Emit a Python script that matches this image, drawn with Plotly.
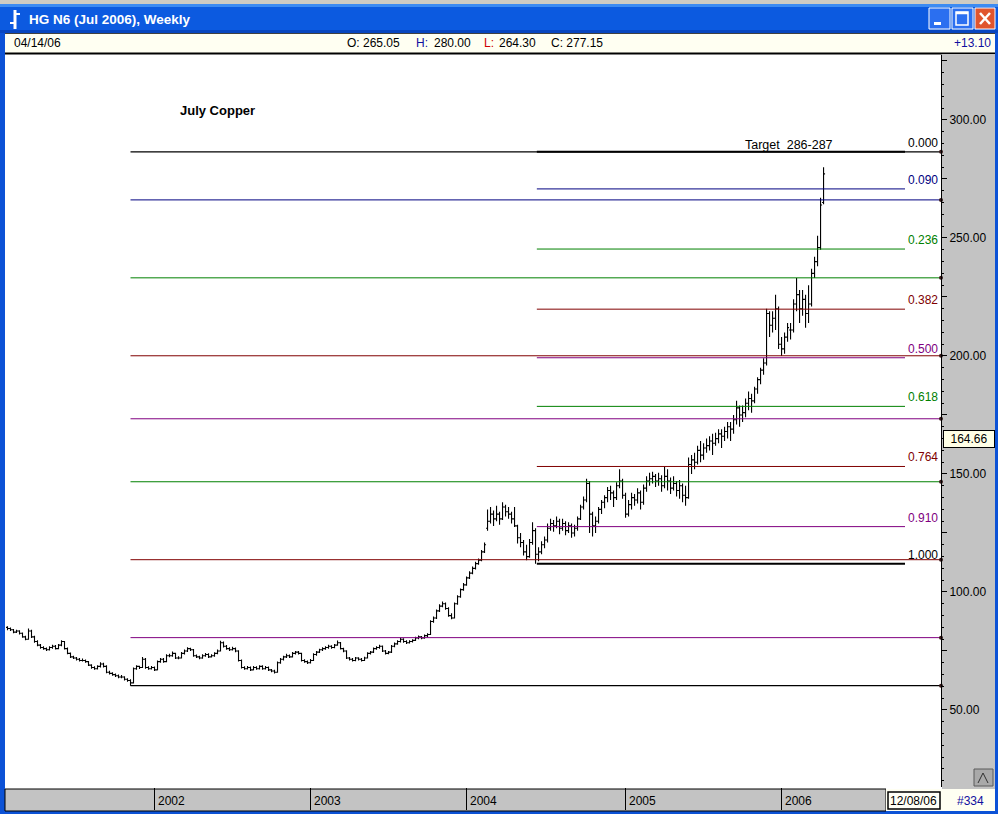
import plotly.graph_objects as go
import pandas as pd

# ---------------- data (weekly OHLC, July copper) ----------------
last_bar_date = "2006-04-14"

opens = [
    85, 84.5, 84, 83, 83.5, 82.5, 81, 80, 83.5, 81,
    79, 77.5, 76.5, 76, 75.5, 76.5, 77, 76, 77.5, 79,
    76, 74, 72.5, 72, 71.5, 71, 71, 70.5, 69, 68,
    67.5, 68.5, 69.5, 68.5, 66, 65.5, 65, 64.5, 64, 64,
    63, 62.5, 61.5, 67.5, 68.5, 68, 71.5, 68, 67.5, 68,
    67, 70.5, 71.5, 70.5, 73, 73, 74, 72, 72, 74,
    75, 76, 75.5, 73, 72.5, 72, 73, 73.5, 72.5, 73,
    74, 75, 78.5, 77, 76, 75.5, 76, 75, 71, 68,
    67.5, 68, 67, 68, 67.5, 68.5, 67.5, 68, 67, 66.5,
    66, 70, 71.5, 72.5, 73, 72.5, 74, 74.5, 74, 71,
    70.5, 70, 71, 73.5, 74.5, 75.5, 76, 76.5, 77, 76.5,
    77.5, 78.5, 76, 75, 72, 71.5, 71, 72, 71.5, 71,
    72, 74, 74.5, 76, 76.5, 77, 75, 74, 74.5, 77,
    78, 79, 80, 79, 78.5, 79, 79.5, 80.5, 81, 80.5,
    81.5, 82, 87.5, 89, 92, 94, 95, 93, 90, 89,
    95, 98, 101, 103, 106, 108, 110, 112, 113.5, 117,
    127, 130, 133, 131, 133, 131, 136, 134, 133, 131,
    128, 123, 121, 117, 115, 121, 126, 116, 117, 120,
    122, 127, 129, 128, 130, 127, 129, 126, 128, 125,
    127, 131, 136, 139, 146, 133, 128, 130, 135, 138,
    140, 143, 142, 140, 145, 147, 141, 133, 137, 140,
    139, 142, 138, 144, 147, 148, 149, 147, 148, 145,
    149, 147, 144, 146, 143, 145, 141, 140, 154, 156,
    155, 160, 158, 161, 162, 164, 163, 165, 167, 166,
    168, 170, 169, 173, 178, 175, 176, 180, 182, 181,
    186, 190, 194, 197, 218, 213, 216, 220, 205, 203,
    208, 211, 211, 222, 226, 220, 224, 218, 222, 235,
    240, 246, 265.05,
]
highs = [
    85.5, 85, 84.3, 84, 83.8, 82.8, 81.5, 84.5, 84, 81.5,
    79.5, 78, 77, 76.5, 77, 77.6, 77.5, 78, 79.6, 79.2,
    76.5, 74.4, 73, 72.5, 72, 71.8, 71.4, 70.8, 69.4, 68.5,
    69, 70.2, 70, 69, 66.6, 66, 65.5, 65, 64.8, 64.3,
    63.5, 63, 68, 69, 68.8, 72.5, 72, 68.5, 68.6, 68.4,
    71, 72, 72, 73.6, 73.8, 74.8, 74.3, 72.8, 74.6, 75.6,
    76.6, 76.4, 75.8, 73.5, 73, 73.6, 74.2, 74, 73.6, 74.5,
    75.6, 79.3, 79, 77.5, 76.6, 76.8, 76.5, 75.3, 71.4, 68.5,
    68.6, 68.4, 68.6, 68.5, 69, 69, 68.6, 68.4, 67.4, 67,
    70.5, 72, 73, 73.8, 73.5, 74.6, 75, 75, 74.3, 71.5,
    71, 71.6, 74, 75, 76, 76.6, 77, 77.6, 77.4, 78,
    79.4, 78.8, 76.4, 75.3, 72.5, 72, 72.5, 72.4, 72, 72.6,
    74.5, 75, 76.5, 77, 77.6, 77.3, 75.4, 75, 77.5, 78.6,
    79.6, 80.6, 80.4, 79.5, 79.6, 80, 81, 81.6, 81.4, 82,
    82.5, 88, 89.6, 92.6, 94.8, 96, 95.5, 93.5, 91, 95.6,
    98.6, 101.5, 103.8, 106.6, 108.8, 110.8, 112.8, 114.2, 117.8, 121,
    135, 136, 134.5, 136.5, 134, 138, 137, 136, 134, 136,
    128.5, 125, 122, 120, 122.5, 129.5, 127, 119, 121.5, 123.5,
    129, 131, 130.5, 132, 131, 131, 130, 129.5, 129, 128.5,
    132, 137, 140.5, 148, 147, 134, 132, 136, 139, 141,
    144.5, 145, 143, 146.5, 152, 148, 142, 139, 142, 141.5,
    144, 143, 145.5, 149, 150.5, 151, 150, 150.5, 149.5, 153,
    152, 148.5, 149, 147, 147.5, 146, 145, 157, 158, 159,
    162, 164, 163, 165, 166, 167, 167.5, 169, 169, 170,
    172, 172, 175, 181, 179, 179, 182, 185, 184, 187,
    191, 195, 199, 220, 219, 219, 226, 221, 208, 210,
    214, 214, 224, 233, 228, 228, 226, 230, 237, 242,
    251, 267, 280,
]
lows = [
    83.8, 83.5, 82.5, 82.6, 82, 80.6, 79.6, 79.8, 80.5, 78.5,
    77, 76, 75.5, 75, 75.2, 76, 75.6, 75.7, 77, 75.6,
    73.6, 72, 71.6, 71, 70.5, 70.5, 70, 68.6, 67.5, 67,
    67.2, 68, 68, 65.6, 65, 64.5, 64, 63.5, 63.5, 62.5,
    62, 60.3, 61.2, 67, 67.4, 67.8, 67.5, 67, 67.2, 66.5,
    66.8, 70, 70, 70.2, 72.4, 72.6, 71.6, 71.5, 71.8, 73.5,
    74.6, 75, 72.6, 72, 71.5, 71.7, 72.6, 72, 72.2, 72.6,
    73.6, 74.8, 76.5, 75.5, 75, 75.2, 74.5, 70.5, 67.6, 67,
    67.2, 66.5, 66.8, 67, 67.2, 67, 67.2, 66.5, 66, 65.5,
    65.8, 69.6, 71, 72, 72, 72.2, 73.5, 73.5, 70.6, 70,
    69.5, 69.7, 70.8, 73, 74.2, 75, 75.5, 76, 76, 76.2,
    77.2, 75.6, 74.5, 71.6, 71, 70.5, 70.7, 71, 70.5, 70.8,
    71.8, 73.5, 74.2, 75.5, 76, 74.6, 73.5, 73.6, 74.2, 76.6,
    77.6, 78.6, 78.5, 78, 78.2, 78.6, 79.2, 80, 80, 80.2,
    80.8, 81.8, 87, 88.6, 91.5, 93.5, 92.5, 89.5, 88.4, 88.8,
    94.6, 97.6, 100.5, 102.6, 105.5, 107.5, 109.5, 111.5, 113, 116.5,
    126, 129, 128, 130, 128.5, 130.5, 132, 131, 129, 127.5,
    120.5, 119, 115.5, 113.5, 114.5, 120, 112, 113, 116, 118.5,
    121, 126, 125.5, 127, 124.5, 126, 124, 125, 123, 123.5,
    126, 130.5, 135, 138, 125, 123.5, 125, 129, 133, 135.5,
    138, 139, 136, 139, 144, 139.5, 131.5, 132, 135, 136.5,
    137.5, 135, 137, 142.5, 145, 146, 144.5, 145, 142.5, 144,
    143, 141.5, 143, 140.5, 139.5, 138, 136.5, 139.5, 150, 152,
    154, 155, 156, 159, 160, 158, 162, 163, 161, 164,
    165, 164, 167, 171, 170, 172, 174, 177, 176, 180,
    184, 188, 192, 196, 208, 210, 211, 203, 200, 201,
    206, 207, 210, 219, 214, 217, 212, 214, 221, 233,
    238, 245, 264.3,
]
closes = [
    84.5, 84, 83, 83.5, 82.5, 81, 80, 83.5, 81, 79,
    77.5, 76.5, 76, 75.5, 76.5, 77, 76, 77.5, 79, 76,
    74, 72.5, 72, 71.5, 71, 71, 70.5, 69, 68, 67.5,
    68.5, 69.5, 68.5, 66, 65.5, 65, 64.5, 64, 64, 63,
    62.5, 61.5, 67.5, 68.5, 68, 71.5, 68, 67.5, 68, 67,
    70.5, 71.5, 70.5, 73, 73, 74, 72, 72, 74, 75,
    76, 75.5, 73, 72.5, 72, 73, 73.5, 72.5, 73, 74,
    75, 78.5, 77, 76, 75.5, 76, 75, 71, 68, 67.5,
    68, 67, 68, 67.5, 68.5, 67.5, 68, 67, 66.5, 66,
    70, 71.5, 72.5, 73, 72.5, 74, 74.5, 74, 71, 70.5,
    70, 71, 73.5, 74.5, 75.5, 76, 76.5, 77, 76.5, 77.5,
    78.5, 76, 75, 72, 71.5, 71, 72, 71.5, 71, 72,
    74, 74.5, 76, 76.5, 77, 75, 74, 74.5, 77, 78,
    79, 80, 79, 78.5, 79, 79.5, 80.5, 81, 80.5, 81.5,
    82, 87.5, 89, 92, 94, 95, 93, 90, 89, 95,
    98, 101, 103, 106, 108, 110, 112, 113.5, 117, 120,
    130, 133, 131, 133, 131, 136, 134, 133, 131, 128,
    123, 121, 117, 115, 121, 126, 116, 117, 120, 122,
    127, 129, 128, 130, 127, 129, 126, 128, 125, 127,
    131, 136, 139, 146, 133, 128, 130, 135, 138, 140,
    143, 142, 140, 145, 147, 141, 133, 137, 140, 139,
    142, 138, 144, 147, 148, 149, 147, 148, 145, 149,
    147, 144, 146, 143, 145, 141, 140, 154, 156, 155,
    160, 158, 161, 162, 164, 163, 165, 167, 166, 168,
    170, 169, 173, 178, 175, 176, 180, 182, 181, 186,
    190, 194, 197, 218, 213, 216, 220, 205, 203, 208,
    212, 211, 222, 226, 220, 224, 218, 222, 235, 240,
    246, 264, 277.15,
]

# Fibonacci retracement sets
fib_ratios = [0.0, 0.09, 0.236, 0.382, 0.5, 0.618, 0.764, 0.91, 1.0]
fib_labels = ["0.000", "0.090", "0.236", "0.382", "0.500", "0.618", "0.764", "0.910", "1.000"]
fib_colors = ["#000000", "#000080", "#008000", "#800000", "#800080",
              "#008000", "#800000", "#800080", "#000000"]
long_fib_high, long_fib_low = 286.5, 60.3
long_fib_span = ["2001-11-09", "2007-01-13"]
short_fib_high, short_fib_low = 286.5, 112.0
short_fib_span = ["2004-06-14", "2006-10-21"]

# axis labels
year_ticks = ["2002-01-04", "2003-01-03", "2004-01-02", "2005-01-07", "2006-01-06"]
year_labels = ["2002", "2003", "2004", "2005", "2006"]
price_ticks = [50, 75, 100, 125, 150, 175, 200, 225, 250, 275, 300, 325]
price_labels = ["50.00", "", "100.00", "", "150.00", "", "200.00", "", "250.00", "", "300.00", ""]
x_range = ["2001-01-22 12:00", "2007-01-13"]
y_range = [17.37, 327.54]
marker_price = 164.66

dates = pd.date_range(end=last_bar_date, periods=len(closes), freq="7D")

# ---------------- figure geometry helpers (window chrome) ----------------
W, H = 998, 814
ML, MR, MT, MB = 6, 57, 55, 27
PWID, PHGT = W - ML - MR, H - MT - MB


def fx(px):
    return (px - ML) / PWID


def fy(py):
    return (H - MB - py) / PHGT


FONT = "Liberation Sans, Arial, sans-serif"
shapes = []
annotations = []


def rect(x0, y0, x1, y1, fill, line=None, lw=0, layer="below"):
    shapes.append(dict(type="rect", xref="paper", yref="paper",
                       x0=fx(x0), x1=fx(x1), y0=fy(y1), y1=fy(y0),
                       fillcolor=fill, layer=layer,
                       line=dict(color=line or fill, width=lw)))


def seg(x0, y0, x1, y1, color, lw=1, layer="above"):
    shapes.append(dict(type="line", xref="paper", yref="paper",
                       x0=fx(x0), x1=fx(x1), y0=fy(y0), y1=fy(y1), layer=layer,
                       line=dict(color=color, width=lw)))


def text(px, py, s, size=12, color="black", anchor="left", bold=False):
    annotations.append(dict(xref="paper", yref="paper", x=fx(px), y=fy(py),
                            text=("<b>%s</b>" % s) if bold else s, showarrow=False,
                            xanchor=anchor, yanchor="middle",
                            font=dict(family=FONT, size=size, color=color)))


# window frame
rect(0, 0, 998, 5, "#cfcbc3")
rect(0, 4, 998, 33, "#0c5ae0")
rect(0, 4, 998, 7, "#3d8bf2")
rect(0, 30, 998, 33, "#0846c0")
rect(0, 33, 5, 814, "#0c52d6")
rect(995, 33, 998, 814, "#0c52d6")
rect(0, 811, 998, 814, "#0c52d6")
# info bar
rect(5, 33, 995, 53, "#fffff2")
seg(5, 33.5, 995, 33.5, "#404040", 1, "below")
seg(5, 53.5, 995, 53.5, "#000000", 2, "below")
# price axis panel
rect(942, 54, 995, 789, "#c3c3c3")
# bottom date bar
rect(5, 789, 886, 811, "#c3c3c3", "#000000", 1)
rect(886, 789, 995, 811, "#fffff2")
rect(888, 792, 940, 809, "#fffff6", "#000000", 1.5)
rect(974, 769, 993, 786, "#a9a9a9", "#5a5a5a", 1)
seg(978, 783, 983, 773, "#303030", 1)
seg(983, 773, 988, 783, "#303030", 1)

# title bar buttons
rect(929, 8, 950, 29, "#2b6ff0", "#ffffff", 1, "above")
rect(934, 22, 941, 25, "#ffffff", None, 0, "above")
rect(952, 8, 973, 29, "#2b6ff0", "#ffffff", 1, "above")
rect(956, 12, 968, 25, "rgba(0,0,0,0)", "#ffffff", 1.5, "above")
seg(956, 13, 968, 13, "#ffffff", 2.5)
rect(975, 8, 995, 29, "#e0552e", "#ffffff", 1, "above")
seg(980, 13, 990, 24, "#ffffff", 2.5)
seg(990, 13, 980, 24, "#ffffff", 2.5)
# title icon
seg(15, 10, 15, 29, "#ffffff", 3)
seg(10, 23, 15, 23, "#ffffff", 2)
seg(15, 14, 20, 14, "#ffffff", 2)

# texts in chrome
text(27, 19.5, "HG N6 (Jul 2006), Weekly", size=13.5, color="white", bold=True)
text(12, 43, "04/14/06")
text(345, 43, "O: 265.05")
text(414, 43, "H:", color="#1010a0")
text(432, 43, "280.00")
text(482, 43, "L:", color="#d00000")
text(497, 43, "264.30")
text(549, 43, "C: 277.15")
text(993, 43, "+13.10", color="#1010a0", anchor="right")
text(913, 800.5, "12/08/06", anchor="center")
text(955, 800.5, "#334", color="#1010a0")
text(178, 110, "July Copper", size=13, bold=True)
text(743, 145, "Target&nbsp;&nbsp;286-287", size=12.5)

fig = go.Figure()

# fibonacci lines
for r, lab, col in zip(fib_ratios, fib_labels, fib_colors):
    lvl = long_fib_high - r * (long_fib_high - long_fib_low)
    fig.add_trace(go.Scatter(x=long_fib_span, y=[lvl, lvl], mode="lines",
                             line=dict(color=col, width=1.3 if col == "#000000" else 1),
                             hoverinfo="skip"))
for r, lab, col in zip(fib_ratios, fib_labels, fib_colors):
    lvl = short_fib_high - r * (short_fib_high - short_fib_low)
    fig.add_trace(go.Scatter(x=short_fib_span, y=[lvl, lvl], mode="lines",
                             line=dict(color=col, width=2 if col == "#000000" else 1),
                             hoverinfo="skip"))
    annotations.append(dict(xref="x", yref="y", x=short_fib_span[1], y=lvl,
                            text=lab, showarrow=False, xanchor="left", yanchor="bottom",
                            xshift=1, yshift=0,
                            font=dict(family=FONT, size=12, color=col)))

# level markers at the right edge of the plot
long_levels = [long_fib_high - r * (long_fib_high - long_fib_low) for r in fib_ratios]
fig.add_trace(go.Scatter(x=[long_fib_span[1]] * len(long_levels), y=long_levels,
                         mode="markers", cliponaxis=False, hoverinfo="skip",
                         marker=dict(symbol="circle", size=4, color="#3a1a1a")))

# price bars
fig.add_trace(go.Ohlc(x=dates, open=opens, high=highs, low=lows, close=closes,
                      increasing=dict(line=dict(color="black", width=1.1)),
                      decreasing=dict(line=dict(color="black", width=1.1)),
                      tickwidth=0.5, hoverinfo="skip"))

# year labels in the bottom bar
for d, lab in zip(year_ticks, year_labels):
    annotations.append(dict(xref="x", yref="paper", x=d, y=fy(800.5), text=lab,
                            showarrow=False, xanchor="left", yanchor="middle", xshift=1,
                            font=dict(family=FONT, size=12, color="black")))

# current price box on the axis
annotations.append(dict(xref="paper", yref="y", x=fx(943), y=marker_price,
                        text="164.66", showarrow=False, xanchor="left", yanchor="middle",
                        bgcolor="#ffffe6", bordercolor="#000000", borderwidth=1,
                        borderpad=1, width=48, align="center",
                        font=dict(family=FONT, size=12, color="black")))

fig.update_layout(
    width=W, height=H, autosize=False,
    margin=dict(l=ML, r=MR, t=MT, b=MB),
    paper_bgcolor="white", plot_bgcolor="white",
    showlegend=False, hovermode=False,
    shapes=shapes, annotations=annotations,
    xaxis=dict(type="date", range=x_range, rangeslider=dict(visible=False),
               showgrid=False, zeroline=False, showline=False,
               tickmode="array", tickvals=year_ticks, showticklabels=False,
               ticks="outside", ticklen=22, tickwidth=1, tickcolor="black"),
    yaxis=dict(side="right", range=y_range, showgrid=False, zeroline=False,
               showline=True, linecolor="black", linewidth=1,
               tickmode="array", tickvals=price_ticks, ticktext=price_labels,
               ticks="outside", ticklen=5, tickwidth=1, tickcolor="black",
               tickfont=dict(family=FONT, size=12, color="black"),
               minor=dict(ticks="outside", ticklen=2, tickwidth=1, tickcolor="black",
                          tickmode="linear", tick0=0, dtick=5, showgrid=False)),
)

fig.write_html(
    "out.html",
    config={"displayModeBar": False, "staticPlot": True},
    post_script="document.documentElement.style.margin='0';"
                "document.body.style.margin='0';document.body.style.padding='0';"
                "document.body.style.overflow='hidden';",
)
